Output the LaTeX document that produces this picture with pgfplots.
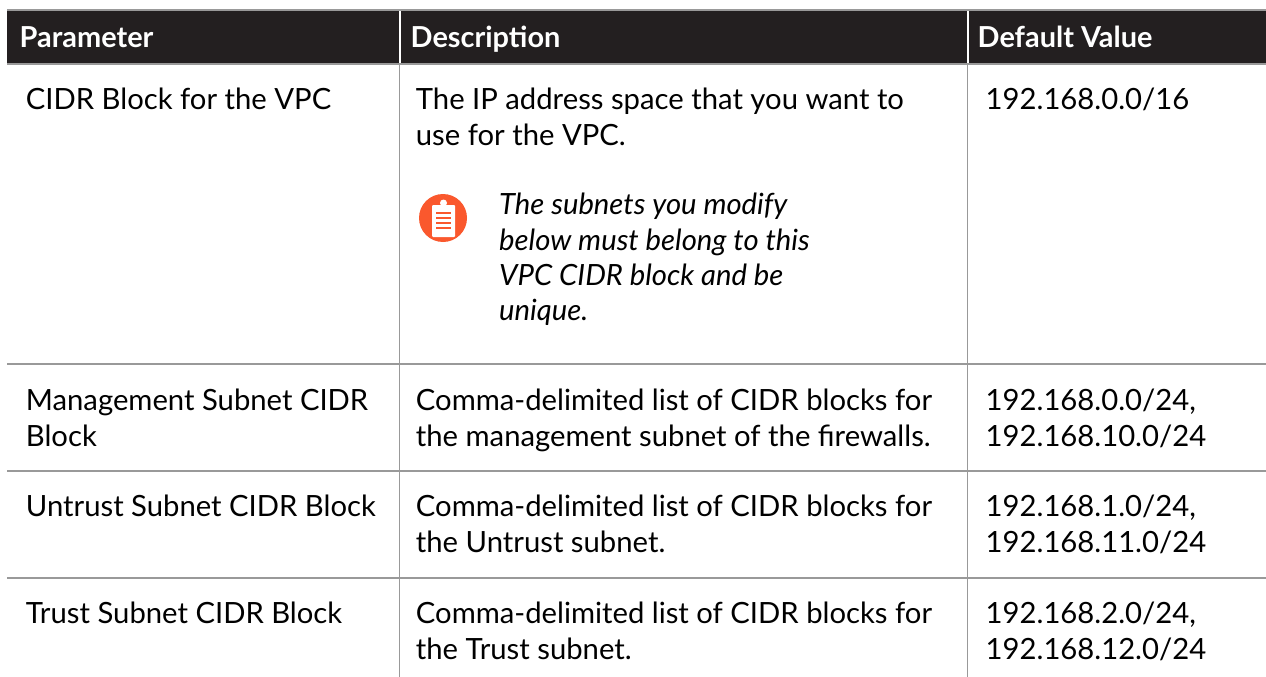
\documentclass[border=0pt]{standalone}
\usepackage{pgfplots}
\pgfplotsset{compat=1.18}
\usepackage{fontspec}
\setmainfont{Lato}
\definecolor{hdr}{HTML}{231F20}
\definecolor{rule}{HTML}{999999}
\definecolor{ico}{HTML}{FA582D}
\tikzset{
  tx/.style={anchor=base west, inner sep=0pt, font=\fontsize{29.25}{36}\selectfont, text=black},
  hd/.style={anchor=base west, inner sep=0pt, font=\fontsize{28.9}{36}\selectfont\bfseries, text=white},
  it/.style={anchor=base west, inner sep=0pt, font=\fontsize{29.25}{36}\selectfont\itshape, text=black},
}
\begin{document}
\begin{tikzpicture}
\begin{axis}[
  scale only axis, width=1266pt, height=677pt,
  xmin=0, xmax=1266, ymin=0, ymax=677, y dir=reverse,
  hide axis, clip=true,
  every axis plot/.append style={no markers},
]
% page background and header band
\addplot[draw=none, fill=white] coordinates {(0,0)(1266,0)(1266,677)(0,677)} -- cycle;
\addplot[draw=none, fill=hdr] coordinates {(7,11)(1266,11)(1266,63)(7,63)} -- cycle;
% rules
\addplot[rule, line width=1.2pt] coordinates {(7,10)(1266,10)};
\addplot[rule, line width=1.2pt] coordinates {(7,64)(1266,64)};
\addplot[rule, line width=1.2pt] coordinates {(7,364)(1266,364)};
\addplot[rule, line width=1.2pt] coordinates {(7,471)(1266,471)};
\addplot[rule, line width=1.2pt] coordinates {(7,578)(1266,578)};
\addplot[rule, line width=1.2pt] coordinates {(399.5,64)(399.5,677)};
\addplot[rule, line width=1.2pt] coordinates {(967.5,64)(967.5,677)};
\addplot[white, line width=2pt] coordinates {(399.5,11)(399.5,63)};
\addplot[white, line width=2pt] coordinates {(967.5,11)(967.5,63)};
% header
\node[hd] at (axis cs:19.5,48) {Parameter};
\node[hd] at (axis cs:410.5,48) {Description};
\node[hd] at (axis cs:977.5,48) {Default Value};
% row 1
\node[tx] at (axis cs:25.7,109.5) {CIDR Block for the VPC};
\node[tx] at (axis cs:415.7,109.5) {The IP address space that you want to};
\node[tx] at (axis cs:415.7,145) {use for the VPC.};
\node[tx] at (axis cs:985.5,109.5) {192.168.0.0/16};
\node[it] at (axis cs:499,214) {The subnets you modify};
\node[it] at (axis cs:499,250) {below must belong to this};
\node[it] at (axis cs:499,285.5) {VPC CIDR block and be};
\node[it] at (axis cs:499,320.5) {unique.};
% row 2
\node[tx] at (axis cs:25.7,410) {Management Subnet CIDR};
\node[tx] at (axis cs:25.7,446) {Block};
\node[tx] at (axis cs:415.7,410) {Comma-delimited list of CIDR blocks for};
\node[tx] at (axis cs:415.7,446) {the management subnet of the firewalls.};
\node[tx] at (axis cs:985.5,410) {192.168.0.0/24,};
\node[tx] at (axis cs:985.5,446) {192.168.10.0/24};
% row 3
\node[tx] at (axis cs:25.7,516.5) {Untrust Subnet CIDR Block};
\node[tx] at (axis cs:415.7,516.5) {Comma-delimited list of CIDR blocks for};
\node[tx] at (axis cs:415.7,552) {the Untrust subnet.};
\node[tx] at (axis cs:985.5,516.5) {192.168.1.0/24,};
\node[tx] at (axis cs:985.5,552) {192.168.11.0/24};
% row 4
\node[tx] at (axis cs:25.7,623.5) {Trust Subnet CIDR Block};
\node[tx] at (axis cs:415.7,623.5) {Comma-delimited list of CIDR blocks for};
\node[tx] at (axis cs:415.7,659) {the Trust subnet.};
\node[tx] at (axis cs:985.5,623.5) {192.168.2.0/24,};
\node[tx] at (axis cs:985.5,659) {192.168.12.0/24};
% note icon
\fill[ico] (axis cs:443,218) circle (24pt);
\fill[white, rounded corners=1pt] (axis cs:432,205) rectangle (axis cs:455,237);
\fill[white] (axis cs:443.5,203) circle (3.5pt);
\addplot[ico, line width=1.3pt] coordinates {(436,213)(451,213)};
\addplot[ico, line width=1.3pt] coordinates {(436,218)(451,218)};
\addplot[ico, line width=1.3pt] coordinates {(436,223)(451,223)};
\addplot[ico, line width=1.3pt] coordinates {(436,228)(451,228)};
\end{axis}
\end{tikzpicture}
\end{document}
